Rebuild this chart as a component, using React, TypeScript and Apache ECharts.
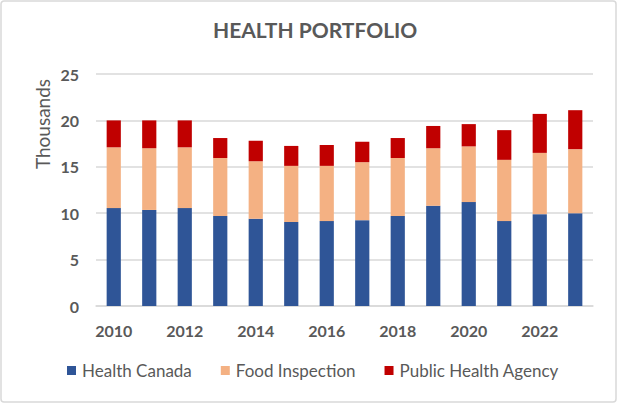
import React, { useEffect, useRef } from "react";
import * as echarts from "echarts";

const years = ["2010","2011","2012","2013","2014","2015","2016","2017","2018","2019","2020","2021","2022","2023"];
const healthCanadaTop = [10.55,10.35,10.55,9.7,9.4,9.05,9.15,9.25,9.7,10.8,11.2,9.15,9.9,10.0];
const foodInspectionTop = [17.1,17.0,17.1,15.95,15.6,15.1,15.1,15.5,15.95,17.0,17.2,15.75,16.5,16.9];
const publicHealthTop = [20.0,20.0,20.0,18.1,17.8,17.25,17.35,17.7,18.1,19.4,19.6,18.95,20.7,21.1];

const healthCanada = healthCanadaTop;
const foodInspection = foodInspectionTop.map((v, i) => +(v - healthCanadaTop[i]).toFixed(2));
const publicHealth = publicHealthTop.map((v, i) => +(v - foodInspectionTop[i]).toFixed(2));

const FONT = "Lato, 'Open Sans', sans-serif";

export default function App() {
  const ref = useRef<HTMLDivElement>(null);
  useEffect(() => {
    document.body.style.margin = "0";
    const chart = echarts.init(ref.current!, null, { renderer: "svg" });
    chart.setOption({
      animation: false,
      backgroundColor: "#ffffff",
      title: {
        text: "HEALTH PORTFOLIO",
        left: 213,
        top: 19,
        padding: 0,
        textStyle: { fontFamily: FONT, fontSize: 21, fontWeight: "bold", color: "#595959" },
      },
      graphic: [
        {
          type: "rect",
          shape: { x: 1, y: 1, width: 615, height: 401, r: 3 },
          style: { fill: "none", stroke: "#d9d9d9", lineWidth: 1.5 },
          silent: true,
        },
        {
          type: "text",
          x: 42,
          y: 124,
          rotation: Math.PI / 2,
          style: {
            text: "Thousands",
            fontFamily: FONT,
            fontSize: 19,
            fill: "#595959",
            align: "center",
            verticalAlign: "middle",
          },
        },
      ],
      legend: {
        left: 67,
        top: 362,
        padding: 0,
        itemWidth: 9,
        itemHeight: 9,
        itemGap: 29,
        icon: "rect",
        textStyle: { fontFamily: FONT, fontSize: 17, color: "#595959", padding: [0, 0, 0, 1] },
        data: ["Health Canada", "Food Inspection", "Public Health Agency"],
      },
      grid: { left: 96, right: 25, top: 74, bottom: 98, containLabel: false },
      xAxis: {
        type: "category",
        data: years,
        axisTick: { show: false },
        axisLine: { show: true, lineStyle: { color: "#d9d9d9", width: 1.5 } },
        axisLabel: {
          interval: 1,
          fontFamily: FONT,
          fontSize: 16,
          fontWeight: "bold",
          color: "#595959",
          margin: 16,
        },
      },
      yAxis: {
        type: "value",
        min: 0,
        max: 25,
        interval: 5,
        axisLine: { show: false },
        axisTick: { show: false },
        splitLine: { lineStyle: { color: "#d9d9d9", width: 1.5 } },
        axisLabel: { fontFamily: FONT, fontSize: 16, fontWeight: "bold", color: "#595959", margin: 17 },
      },
      series: [
        { name: "Health Canada", type: "bar", stack: "t", data: healthCanada, barWidth: "40%", itemStyle: { color: "#2f5597" } },
        { name: "Food Inspection", type: "bar", stack: "t", data: foodInspection, barWidth: "40%", itemStyle: { color: "#f4b183" } },
        { name: "Public Health Agency", type: "bar", stack: "t", data: publicHealth, barWidth: "40%", itemStyle: { color: "#c00000" } },
      ],
    });
    return () => chart.dispose();
  }, []);
  return <div ref={ref} style={{ position: "absolute", left: 0, top: 0, width: 618, height: 404 }} />;
}
